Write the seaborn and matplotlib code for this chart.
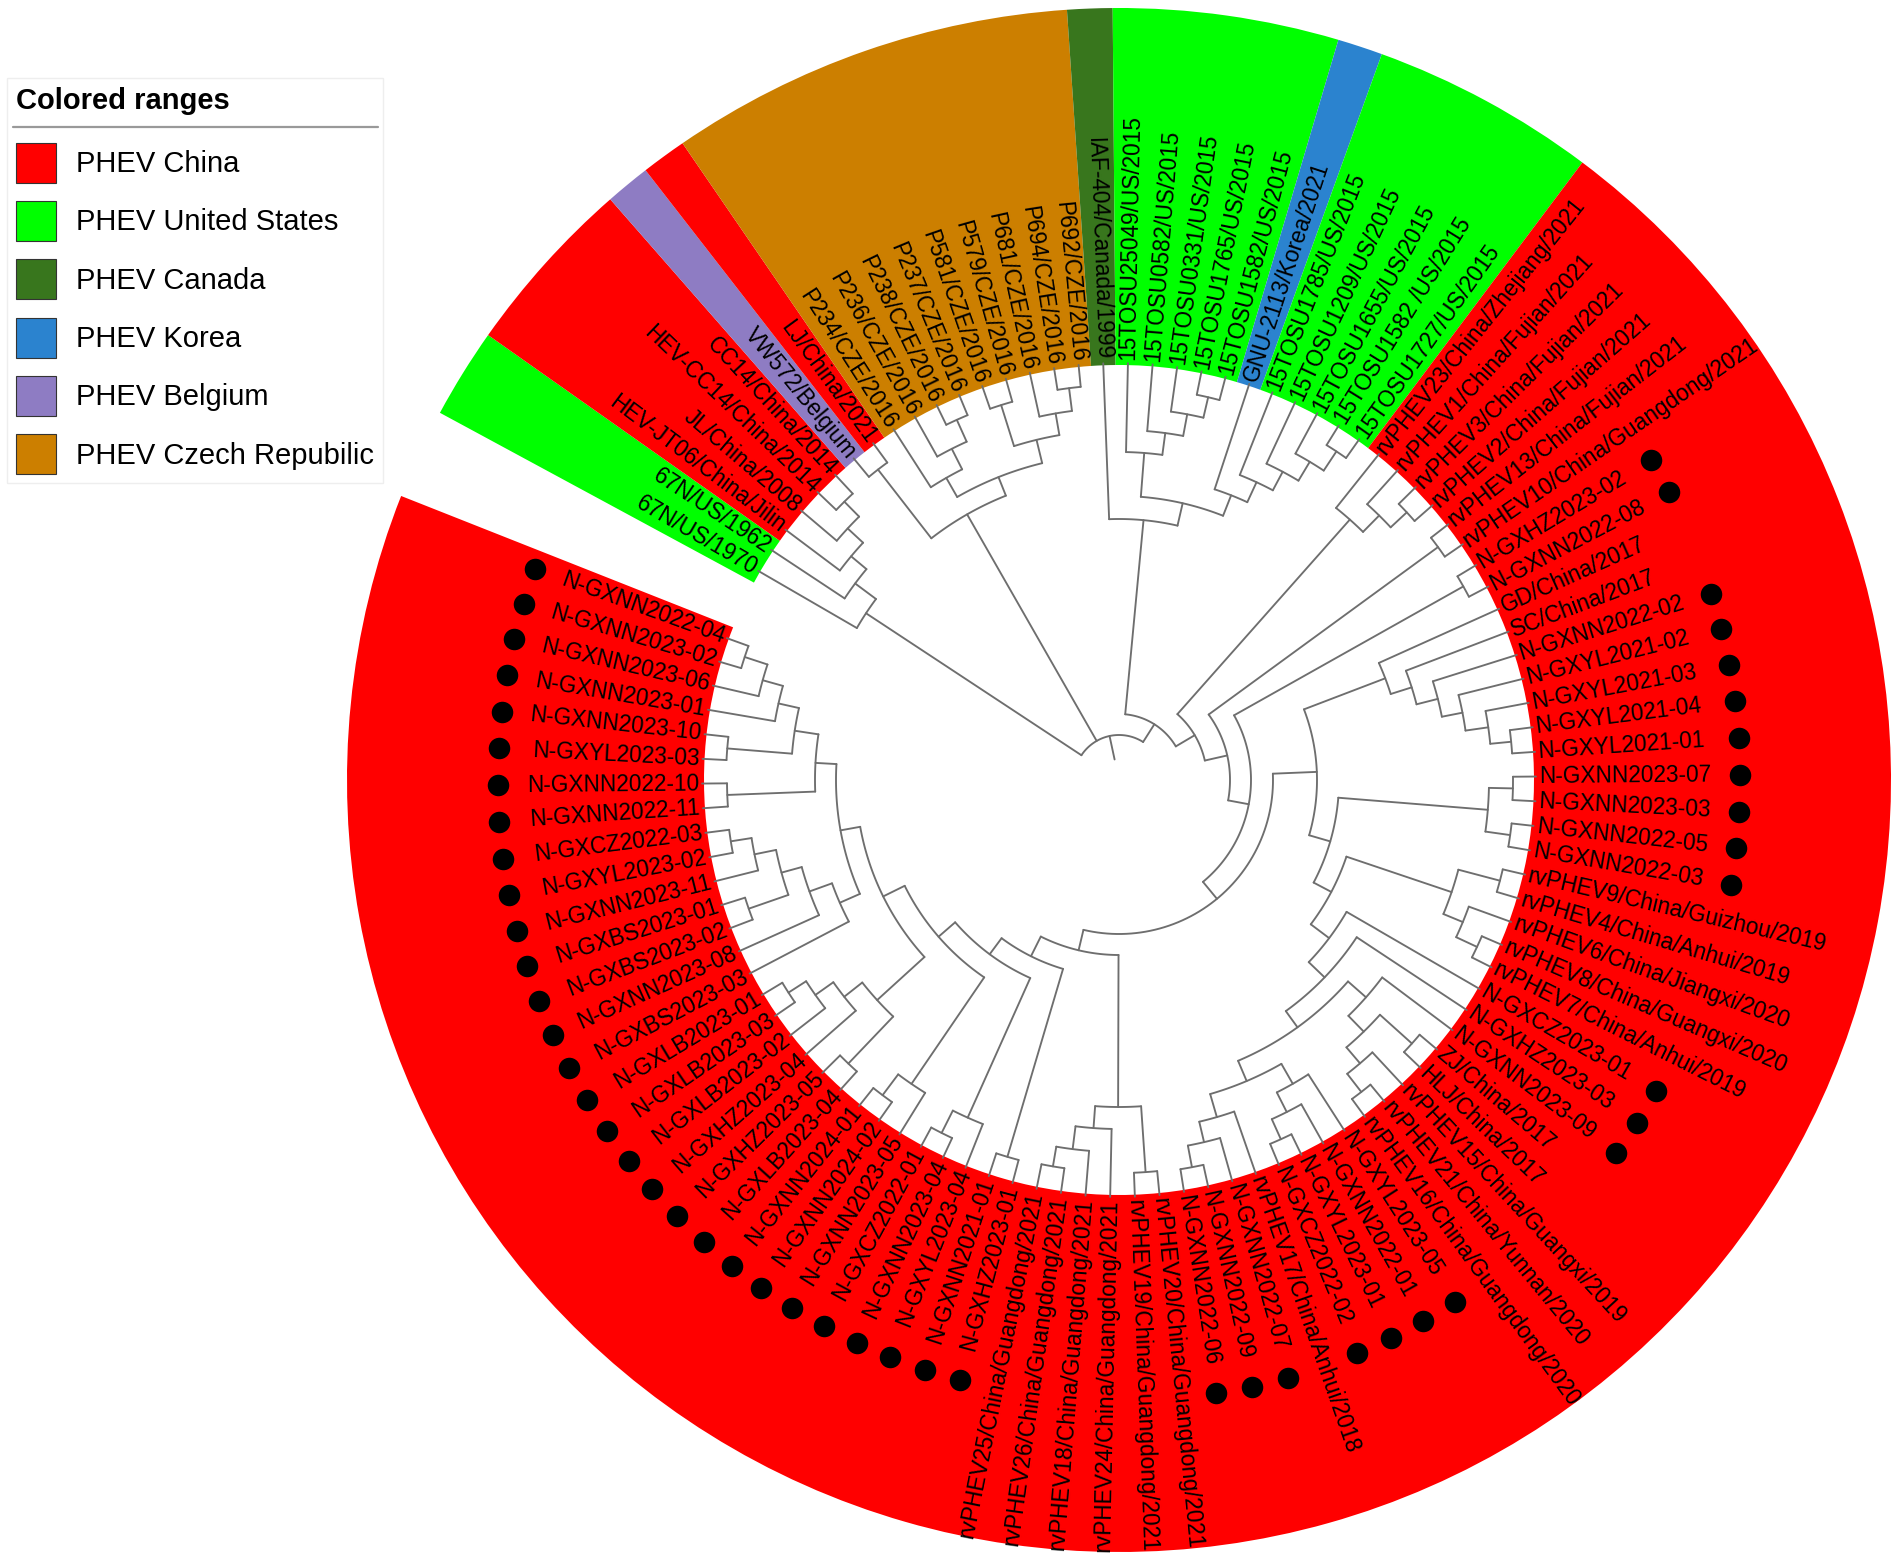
import numpy as np
import seaborn as sns
import matplotlib.pyplot as plt
from matplotlib.lines import Line2D
from matplotlib.patches import Patch

WIDTH, HEIGHT = 1902, 1560

# leaves, clockwise from the gap in the ring
leaf_names = [
    "67N/US/1970", "67N/US/1962", "HEV-JT06/China/Jilin", "JL/China/2008",
    "HEV-CC14/China/2014", "CC14/China/2014", "VW572/Belgium", "LJ/China/2021",
    "P234/CZE/2016", "P236/CZE/2016", "P238/CZE/2016", "P237/CZE/2016",
    "P581/CZE/2016", "P579/CZE/2016", "P681/CZE/2016", "P694/CZE/2016",
    "P692/CZE/2016", "IAF-404/Canada/1999", "15TOSU25049/US/2015",
    "15TOSU0582/US/2015", "15TOSU0331/US/2015", "15TOSU1765/US/2015",
    "15TOSU1582/US/2015", "GNU-2113/Korea/2021", "15TOSU1785/US/2015",
    "15TOSU1209/US/2015", "15TOSU1655/US/2015", "15TOSU1582 /US/2015",
    "15TOSU1727/US/2015", "rvPHEV23/China/Zhejiang/2021",
    "rvPHEV1/China/Fujian/2021", "rvPHEV3/China/Fujian/2021",
    "rvPHEV2/China/Fujian/2021", "rvPHEV13/China/Fujian/2021",
    "rvPHEV10/China/Guangdong/2021", "N-GXHZ2023-02", "N-GXNN2022-08",
    "GD/China/2017", "SC/China/2017", "N-GXNN2022-02", "N-GXYL2021-02",
    "N-GXYL2021-03", "N-GXYL2021-04", "N-GXYL2021-01", "N-GXNN2023-07",
    "N-GXNN2023-03", "N-GXNN2022-05", "N-GXNN2022-03",
    "rvPHEV9/China/Guizhou/2019", "rvPHEV4/China/Anhui/2019",
    "rvPHEV6/China/Jiangxi/2020", "rvPHEV8/China/Guangxi/2020",
    "rvPHEV7/China/Anhui/2019", "N-GXCZ2023-01", "N-GXHZ2023-03",
    "N-GXNN2023-09", "ZJ/China/2017", "HLJ/China/2017",
    "rvPHEV15/China/Guangxi/2019", "rvPHEV21/China/Yunnan/2020",
    "rvPHEV16/China/Guangdong/2020", "N-GXYL2023-05", "N-GXNN2022-01",
    "N-GXYL2023-01", "N-GXCZ2022-02", "rvPHEV17/China/Anhui/2018",
    "N-GXNN2022-07", "N-GXNN2022-09", "N-GXNN2022-06",
    "rvPHEV20/China/Guangdong/2021", "rvPHEV19/China/Guangdong/2021",
    "rvPHEV24/China/Guangdong/2021", "rvPHEV18/China/Guangdong/2021",
    "rvPHEV26/China/Guangdong/2021", "rvPHEV25/China/Guangdong/2021",
    "N-GXHZ2023-01", "N-GXNN2021-01", "N-GXYL2023-04", "N-GXNN2023-04",
    "N-GXCZ2022-01", "N-GXNN2023-05", "N-GXNN2024-02", "N-GXNN2024-01",
    "N-GXLB2023-04", "N-GXHZ2023-05", "N-GXHZ2023-04", "N-GXLB2023-02",
    "N-GXLB2023-03", "N-GXLB2023-01", "N-GXBS2023-03", "N-GXNN2023-08",
    "N-GXBS2023-02", "N-GXBS2023-01", "N-GXNN2023-11", "N-GXYL2023-02",
    "N-GXCZ2022-03", "N-GXNN2022-11", "N-GXNN2022-10", "N-GXYL2023-03",
    "N-GXNN2023-10", "N-GXNN2023-01", "N-GXNN2023-06", "N-GXNN2023-02",
    "N-GXNN2022-04",
]

# colored ranges: first leaf, last leaf (1-based), group
range_first = [1, 3, 7, 8, 9, 18, 19, 24, 25, 30]
range_last = [2, 6, 7, 8, 17, 18, 23, 24, 29, 104]
range_group = ["PHEV United States", "PHEV China", "PHEV Belgium", "PHEV China",
               "PHEV Czech Repubilic", "PHEV Canada", "PHEV United States",
               "PHEV Korea", "PHEV United States", "PHEV China"]

legend_groups = ["PHEV China", "PHEV United States", "PHEV Canada", "PHEV Korea",
                 "PHEV Belgium", "PHEV Czech Repubilic"]
legend_colors = ["#ff0000", "#00ff00", "#38761d", "#2b83cf", "#8e7cc3", "#cc7f00"]

# internal tree nodes: leaf span of each clade and distance from the root
clade_first = [1, 1, 2, 3, 4, 5, 7, 7, 9, 9, 10, 11, 13, 13, 15, 16, 18, 18, 19, 19,
               20, 21, 22, 24, 25, 26, 27, 28, 30, 30, 31, 32, 34, 34, 36, 36, 38, 38,
               38, 39, 40, 41, 42, 43, 45, 45, 45, 47, 49, 49, 49, 51, 52, 54, 55, 56,
               56, 57, 57, 59, 60, 62, 62, 63, 64, 66, 67, 68, 70, 70, 70, 72, 73, 74,
               76, 76, 78, 78, 79, 81, 81, 82, 84, 84, 84, 86, 87, 88, 90, 90, 91, 92,
               92, 94, 95, 97, 97, 99, 99, 101, 102, 103]
clade_last = [104, 6, 6, 6, 6, 6, 17, 8, 17, 12, 12, 12, 17, 14, 17, 17, 104, 29, 29, 23,
              23, 23, 23, 29, 29, 29, 29, 29, 104, 33, 33, 33, 104, 35, 104, 37, 104, 69,
              44, 44, 44, 44, 44, 44, 69, 48, 46, 48, 69, 53, 50, 53, 53, 69, 69, 69,
              61, 61, 58, 61, 61, 69, 65, 65, 65, 69, 69, 69, 104, 75, 71, 75, 75, 75,
              104, 77, 104, 80, 80, 104, 83, 83, 104, 89, 85, 89, 89, 89, 104, 96, 96, 96,
              93, 96, 96, 104, 98, 104, 100, 104, 104, 104]
clade_radius = [45, 303, 329, 349, 370, 391, 306, 393, 326, 348, 371, 395, 350, 393, 372, 395,
                66, 261, 284, 328, 350, 372, 393, 306, 328, 349, 371, 394, 88, 348, 371, 393,
                111, 395, 132, 395, 154, 198, 285, 307, 329, 350, 373, 394, 220, 370, 394, 395,
                240, 351, 394, 372, 395, 263, 285, 305, 329, 351, 394, 372, 395, 327, 350, 372,
                394, 351, 372, 394, 175, 327, 393, 349, 372, 392, 197, 393, 217, 370, 395, 239,
                368, 394, 263, 327, 392, 350, 372, 393, 283, 305, 329, 350, 392, 372, 393, 304,
                392, 328, 393, 349, 370, 394]
# clade 0 (root) spans all leaves; the spans below are sorted out by enclosure
root_start = 21
leaf_end = 417

first_leaf_angle = 149.9
leaf_step = 3.396

inner_radius = 415
outer_radius = 772
label_radius = 420
dot_radius = 621

sns.set_theme(style="white")
plt.rcParams["font.family"] = ["Liberation Sans", "DejaVu Sans"]
plt.rcParams["text.color"] = "black"

palette = dict(zip(legend_groups, sns.color_palette(legend_colors)))


def leaf_theta(pos):
    return np.deg2rad(first_leaf_angle - (pos - 1) * leaf_step)


fig = plt.figure(figsize=(WIDTH / 100, HEIGHT / 100), dpi=100, facecolor="white")
ax = fig.add_axes([339 / WIDTH, 0, 1560 / WIDTH, 1], projection="polar")
ax.set_ylim(0, 780)
ax.set_xlim(0, 2 * np.pi)
ax.set_axis_off()

# colored ranges
for first, last, group in zip(range_first, range_last, range_group):
    start = leaf_theta(last + 0.5)
    end = leaf_theta(first - 0.5)
    ax.bar((start + end) / 2, outer_radius - inner_radius, width=end - start,
           bottom=inner_radius, color=palette[group], linewidth=0, zorder=1)

# tree: find each clade's parent (smallest enclosing clade)
n_clades = len(clade_first)
order = sorted(range(n_clades), key=lambda i: clade_last[i] - clade_first[i])
parent = {}
for i in range(n_clades):
    best = None
    for j in order:
        if j != i and clade_first[j] <= clade_first[i] and clade_last[i] <= clade_last[j]:
            if (clade_last[j] - clade_first[j]) > (clade_last[i] - clade_first[i]):
                best = j
                break
    parent[i] = best

children = {i: [] for i in range(n_clades)}
for i, p in parent.items():
    if p is not None:
        children[p].append(i)


def branch_list(node):
    """Child items of a clade in leaf order, as (start leaf, kind, id)."""
    items = [(clade_first[c], "clade", c) for c in children[node]]
    covered = set()
    for c in children[node]:
        covered.update(range(clade_first[c], clade_last[c] + 1))
    for leaf in range(clade_first[node], clade_last[node] + 1):
        if leaf not in covered:
            items.append((leaf, "leaf", leaf))
    return sorted(items)


def draw_line(thetas, radii):
    ax.plot(thetas, radii, color="#6e6e6e", lw=1.35, solid_capstyle="round", zorder=2)


def draw_clade(node):
    r = clade_radius[node]
    positions = []
    for _, kind, ident in branch_list(node):
        if kind == "leaf":
            pos = ident
            draw_line([leaf_theta(pos)] * 2, [r, leaf_end])
        else:
            pos = draw_clade(ident)
            draw_line([leaf_theta(pos)] * 2, [r, clade_radius[ident]])
        positions.append(pos)
    draw_line(np.linspace(leaf_theta(positions[0]), leaf_theta(positions[-1]), 60),
              np.full(60, r))
    return (positions[0] + positions[-1]) / 2


root_pos = draw_clade(0)
draw_line([leaf_theta(root_pos)] * 2, [root_start, clade_radius[0]])

# leaf labels
for i, name in enumerate(leaf_names, start=1):
    angle = first_leaf_angle - (i - 1) * leaf_step
    left_side = np.cos(np.deg2rad(angle)) < 0
    ax.text(leaf_theta(i), label_radius, name, rotation=angle + 180 if left_side else angle,
            rotation_mode="anchor", ha="right" if left_side else "left", va="center",
            fontsize=16.3, color="black", zorder=4)

# black dots on the newly sequenced strains
marked = [i for i, name in enumerate(leaf_names, start=1) if name.startswith("N-G")]
sns.scatterplot(x=[leaf_theta(i) for i in marked], y=[dot_radius] * len(marked), ax=ax,
                color="black", s=240, linewidth=0, zorder=3, legend=False, clip_on=False)
ax.set_ylim(0, 780)
ax.set_axis_off()

# legend
handles = [Patch(facecolor=palette[g], edgecolor="#333333", linewidth=0.8) for g in legend_groups]
leg = fig.legend(handles, legend_groups, title="Colored ranges", loc="upper left",
                 bbox_to_anchor=(7 / WIDTH, 1 - 78 / HEIGHT), borderaxespad=0,
                 fontsize=21, title_fontproperties={"size": 21, "weight": "bold"},
                 alignment="left", handlelength=1.37, handleheight=1.733,
                 handletextpad=0.69, labelspacing=0.63, borderpad=0.3,
                 fancybox=False, framealpha=1, edgecolor="#eeeeee", labelcolor="black")
leg.get_title().set_color("black")
leg._legend_box.sep = 20
fig.add_artist(Line2D([13 / WIDTH, 378 / WIDTH], [1 - 127 / HEIGHT] * 2, color="#999999",
                      lw=1.6, zorder=10))

fig.savefig("out.png", dpi=100, facecolor="white")
